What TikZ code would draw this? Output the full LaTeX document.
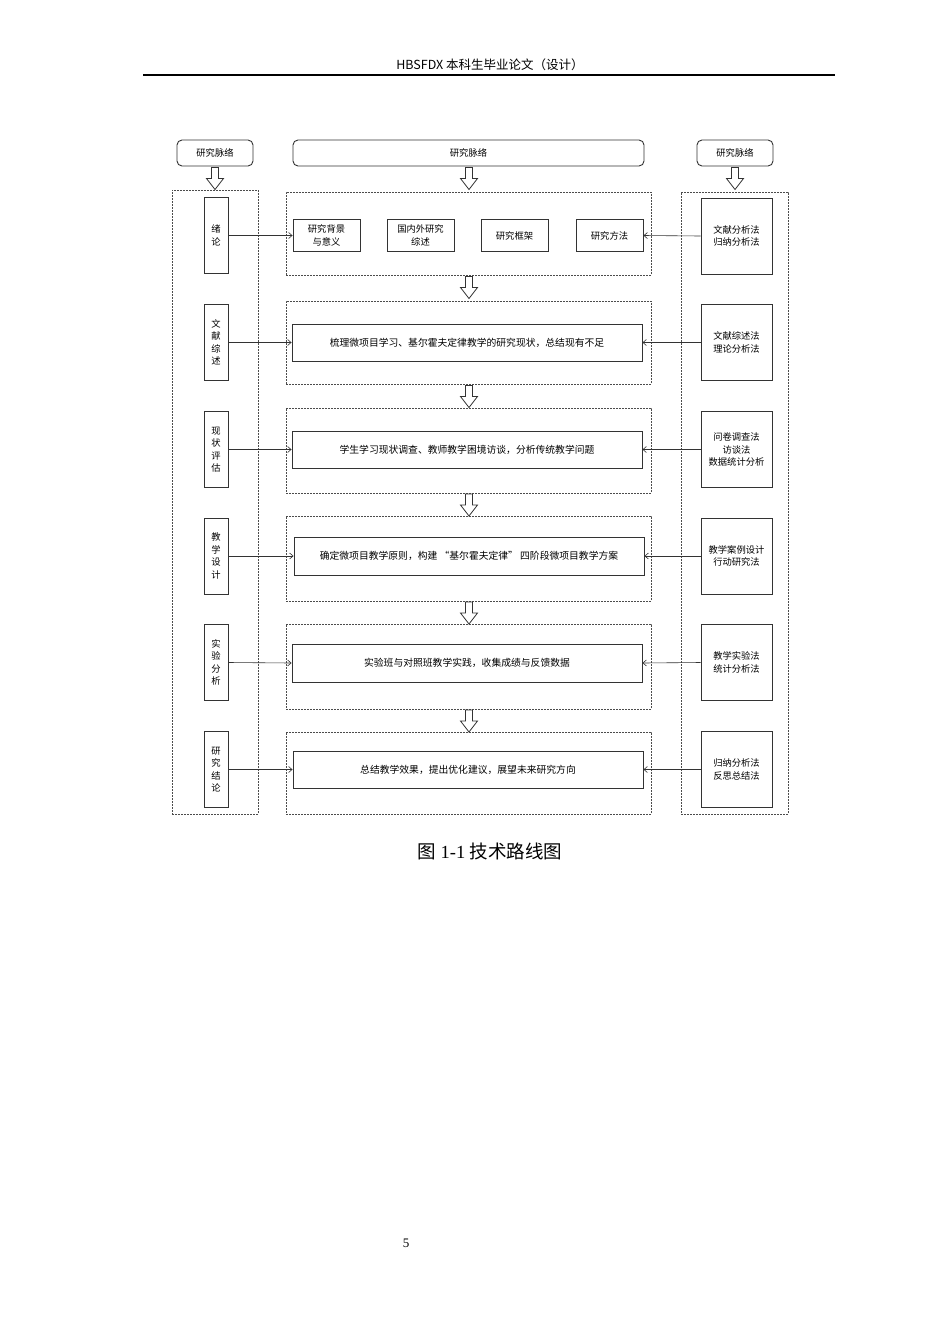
\documentclass[tikz,border=0pt]{standalone}
\usepackage{fontspec}
\setmainfont{Liberation Serif}
\newfontfamily\cjk{Noto Sans CJK SC}
\usetikzlibrary{arrows.meta}
\tikzset{
  box/.style={draw=black!80, line width=0.9pt, fill=white, font=\cjk\fontsize{9.3}{12.5}\selectfont, align=center, inner sep=0pt},
  topbox/.style={box, rounded corners=5pt, minimum height=26pt},
  sidebox/.style={box, minimum width=24pt, minimum height=76pt},
  methbox/.style={box, minimum width=71pt, minimum height=76pt},
  widebox/.style={box, font=\cjk\fontsize{9.8}{12.5}\selectfont, minimum width=350pt, minimum height=37pt},
  smallbox/.style={box, minimum width=67pt, minimum height=32pt},
  dbox/.style={draw=black!70, dash pattern=on 2pt off 1pt, line width=0.7pt, inner sep=0pt},
  conn/.style={draw=black!80, line width=0.6pt, -{Straight Barb[length=3.5pt,width=6pt]}},
  hollow/.pic={\draw[black!80, line width=0.8pt, fill=white] (-3.5,0) -- (-3.5,11) -- (-8.5,11) -- (0,22) -- (8.5,11) -- (3.5,11) -- (3.5,0) -- cycle;}
}
\begin{document}
\begin{tikzpicture}[x=1pt,y=-1pt]
\fill[white] (0,0) rectangle (950,1344);
\useasboundingbox (0,0) rectangle (950,1344);

% header
\node[font=\cjk\fontsize{12.5}{14}\selectfont, inner sep=0pt] (hdr) at (490,65) {HBSFDX 本科生毕业论文（设计）};
\draw[line width=2pt] (143,74.5) -- (835,74.5);

% top boxes
\node[topbox, minimum width=76pt] (tL) at (215,153) {研究脉络};
\node[topbox, minimum width=351pt] (tM) at (468.5,153) {研究脉络};
\node[topbox, minimum width=76pt] (tR) at (735,153) {研究脉络};
\pic at (215,167.5) {hollow};
\pic at (469,167.5) {hollow};
\pic at (735,167.5) {hollow};

% columns
\node[dbox, minimum width=86pt, minimum height=624pt] (colL) at (215,502) {};
\node[dbox, minimum width=107pt, minimum height=622pt] (colR) at (734.5,503) {};

% middle dashed rows
\node[dbox, minimum width=365pt, minimum height=83pt] (r1) at (468.5,233.5) {};
\node[dbox, minimum width=365pt, minimum height=83pt] (r2) at (468.5,342.5) {};
\node[dbox, minimum width=365pt, minimum height=85pt] (r3) at (468.5,450.5) {};
\node[dbox, minimum width=365pt, minimum height=85pt] (r4) at (468.5,558.5) {};
\node[dbox, minimum width=365pt, minimum height=85pt] (r5) at (468.5,666.5) {};
\node[dbox, minimum width=365pt, minimum height=82pt] (r6) at (468.5,773) {};

\pic at (469,276.5) {hollow};
\pic at (469,385.5) {hollow};
\pic at (469,494) {hollow};
\pic at (469,602) {hollow};
\pic at (469,710) {hollow};

% left boxes
\node[sidebox] (L1) at (216,235.5) {绪\\论};
\node[sidebox] (L2) at (216,342.5) {文\\献\\综\\述};
\node[sidebox] (L3) at (216,449.5) {现\\状\\评\\估};
\node[sidebox] (L4) at (216,556) {教\\学\\设\\计};
\node[sidebox] (L5) at (216,662.5) {实\\验\\分\\析};
\node[sidebox] (L6) at (216,769.5) {研\\究\\结\\论};

% right boxes
\node[methbox] (R1) at (736.5,236) {文献分析法\\归纳分析法};
\node[methbox] (R2) at (736.5,342.5) {文献综述法\\理论分析法};
\node[methbox] (R3) at (736.5,449.5) {问卷调查法\\访谈法\\数据统计分析};
\node[methbox] (R4) at (736.5,556) {教学案例设计\\行动研究法};
\node[methbox] (R5) at (736.5,662.5) {教学实验法\\统计分析法};
\node[methbox] (R6) at (736.5,769.5) {归纳分析法\\反思总结法};

% inner boxes
\node[smallbox] (A1) at (326.5,235.5) {研究背景\\与意义};
\node[smallbox] (A2) at (420.5,235.5) {国内外研究\\综述};
\node[smallbox] (A3) at (514.5,235.5) {研究框架};
\node[smallbox] (A4) at (609.5,235.5) {研究方法};
\node[widebox] (M2) at (467,342.5) {梳理微项目学习、基尔霍夫定律教学的研究现状，总结现有不足};
\node[widebox] (M3) at (467,449.5) {学生学习现状调查、教师教学困境访谈，分析传统教学问题};
\node[widebox, minimum height=38pt] (M4) at (469,556) {确定微项目教学原则，构建 “基尔霍夫定律” 四阶段微项目教学方案};
\node[widebox, minimum height=38pt] (M5) at (467,663) {实验班与对照班教学实践，收集成绩与反馈数据};
\node[widebox] (M6) at (468,769.5) {总结教学效果，提出优化建议，展望未来研究方向};

% connectors
\draw[conn] (L1.east) -- (A1.west);
\draw[conn] (R1.west) -- (A4.east);
\draw[conn] (L2.east) -- (M2.west);
\draw[conn] (R2.west) -- (M2.east);
\draw[conn] (L3.east) -- (M3.west);
\draw[conn] (R3.west) -- (M3.east);
\draw[conn] (L4.east) -- (M4.west);
\draw[conn] (R4.west) -- (M4.east);
\draw[conn] (L5.east) -- (M5.west);
\draw[conn] (R5.west) -- (M5.east);
\draw[conn] (L6.east) -- (M6.west);
\draw[conn] (R6.west) -- (M6.east);

% caption and page number
\node[font=\fontsize{18.5}{20}\selectfont, inner sep=0pt] (cap) at (490,851) {{\cjk 图} 1-1 {\cjk 技术路线图}};
\node[font=\fontsize{13}{15}\selectfont, inner sep=0pt] (pg) at (406,1243) {5};
\end{tikzpicture}
\end{document}
